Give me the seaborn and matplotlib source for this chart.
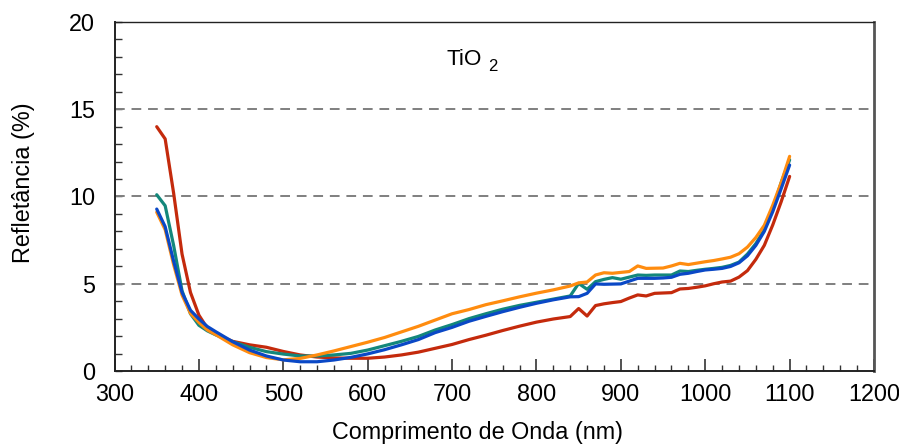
import numpy as np
import pandas as pd
import matplotlib
matplotlib.use("Agg")
import matplotlib.pyplot as plt
from matplotlib.ticker import MultipleLocator
import seaborn as sns

wavelength = [350, 360, 370, 380, 390, 400, 410, 420, 440, 460, 480, 500, 520, 540,
              560, 580, 600, 620, 640, 660, 680, 700, 720, 740, 760, 780, 800, 820,
              840, 850, 860, 870, 880, 890, 900, 910, 920, 930, 940, 950, 960, 970,
              980, 990, 1000, 1010, 1020, 1030, 1040, 1050, 1060, 1070, 1080, 1090, 1100]

red = [14.0, 13.3, 10.2, 6.7, 4.5, 3.2, 2.45, 2.1, 1.7, 1.5, 1.36, 1.12, 0.92, 0.8,
       0.75, 0.73, 0.73, 0.8, 0.92, 1.08, 1.3, 1.52, 1.8, 2.05, 2.32, 2.57, 2.8, 2.98,
       3.12, 3.58, 3.15, 3.75, 3.85, 3.92, 3.98, 4.18, 4.36, 4.3, 4.45, 4.47, 4.49, 4.7,
       4.73, 4.8, 4.88, 5.0, 5.1, 5.15, 5.38, 5.75, 6.4, 7.2, 8.37, 9.7, 11.15]

orange = [9.1, 8.1, 6.1, 4.35, 3.3, 2.78, 2.35, 2.08, 1.5, 1.05, 0.77, 0.64, 0.72, 0.92,
          1.15, 1.4, 1.65, 1.92, 2.24, 2.56, 2.92, 3.28, 3.52, 3.8, 4.02, 4.25, 4.46, 4.65,
          4.87, 5.05, 5.1, 5.5, 5.63, 5.6, 5.65, 5.7, 6.02, 5.88, 5.89, 5.9, 6.02, 6.17,
          6.1, 6.18, 6.26, 6.33, 6.42, 6.52, 6.72, 7.1, 7.65, 8.35, 9.5, 10.8, 12.3]

teal = [10.1, 9.47, 7.2, 4.6, 3.28, 2.62, 2.3, 2.07, 1.68, 1.36, 1.11, 0.97, 0.86, 0.86,
        0.92, 1.01, 1.2, 1.45, 1.7, 1.98, 2.35, 2.66, 3.0, 3.28, 3.54, 3.76, 3.94, 4.12,
        4.3, 5.02, 4.68, 5.12, 5.25, 5.35, 5.26, 5.38, 5.5, 5.48, 5.5, 5.5, 5.5, 5.73,
        5.7, 5.77, 5.83, 5.88, 5.94, 6.05, 6.24, 6.7, 7.3, 8.1, 9.3, 10.8, 12.1]

blue = [9.28, 8.27, 6.3, 4.5, 3.48, 2.98, 2.55, 2.25, 1.68, 1.2, 0.86, 0.63, 0.53, 0.53,
        0.63, 0.78, 0.98, 1.22, 1.5, 1.8, 2.2, 2.5, 2.85, 3.13, 3.4, 3.65, 3.88, 4.08,
        4.25, 4.26, 4.45, 4.99, 4.97, 4.98, 4.99, 5.15, 5.31, 5.31, 5.31, 5.33, 5.37, 5.54,
        5.6, 5.7, 5.79, 5.83, 5.88, 5.99, 6.2, 6.6, 7.2, 8.0, 9.13, 10.45, 11.8]

series_names = ["s_red", "s_teal", "s_orange", "s_blue"]
series_values = [red, teal, orange, blue]
colors = {"s_red": "#C42A0C", "s_teal": "#13877B", "s_orange": "#FF8C0F", "s_blue": "#0A48C6"}

xticks = [300, 400, 500, 600, 700, 800, 900, 1000, 1100, 1200]
yticks = [0, 5, 10, 15, 20]

rows = []
for name, vals in zip(series_names, series_values):
    for w, v in zip(wavelength, vals):
        rows.append({"wl": w, "R": v, "serie": name})
df = pd.DataFrame(rows)

sns.set_style("white")
plt.rcParams['font.family'] = ['Liberation Sans', 'DejaVu Sans']
plt.rcParams['text.color'] = 'black'
plt.rcParams['axes.labelcolor'] = 'black'
plt.rcParams['xtick.color'] = 'black'
plt.rcParams['ytick.color'] = 'black'

FS = 16.8

fig = plt.figure(figsize=(8.99, 4.45), dpi=100)
ax = fig.add_axes([0.1274, 0.1663, 0.9722 - 0.1274, 0.9506 - 0.1663])

for y in yticks[1:]:
    ax.axhline(y, color="#7f7f7f", lw=1.4, ls=(0, (5, 3.5)), zorder=1)

sns.lineplot(data=df, x="wl", y="R", hue="serie", hue_order=series_names,
             palette=colors, lw=2.3, legend=False, ax=ax, zorder=3)

ax.set_xlim(300, 1200)
ax.set_ylim(0, 20)
ax.set_xticks(xticks)
ax.set_yticks(yticks)
ax.xaxis.set_minor_locator(MultipleLocator(20))
ax.yaxis.set_minor_locator(MultipleLocator(1))
ax.tick_params(axis="x", which="major", direction="in", length=9, width=1.2, color="#333333",
               labelsize=FS, labelcolor="black", pad=9)
ax.tick_params(axis="x", which="minor", direction="in", length=4.5, width=1.0, color="#333333")
ax.tick_params(axis="y", which="both", direction="in", length=5, width=1.0, color="#333333",
               labelsize=FS, labelcolor="black", pad=14)
ax.tick_params(axis="both", which="both", bottom=True, left=True, top=False, right=False)

for s in ["left", "bottom"]:
    ax.spines[s].set_color("#222222")
    ax.spines[s].set_linewidth(1.4)
ax.spines["top"].set_color("#222222")
ax.spines["top"].set_linewidth(1.0)
ax.spines["right"].set_color("#555555")
ax.spines["right"].set_linewidth(2.0)

ax.set_xlabel("Comprimento de Onda (nm)", fontsize=FS, color="black")
ax.set_ylabel("Refletância (%)", fontsize=FS, color="black")
ax.xaxis.set_label_coords(0.478, -0.142)
ax.yaxis.set_label_coords(-0.105, 0.54)

ax.text(0.4375, 0.876, "TiO", transform=ax.transAxes, fontsize=16.2, ha="left", va="baseline")
ax.text(0.4925, 0.86, "2", transform=ax.transAxes, fontsize=12, ha="left", va="baseline")

fig.savefig("out.png", dpi=100)
